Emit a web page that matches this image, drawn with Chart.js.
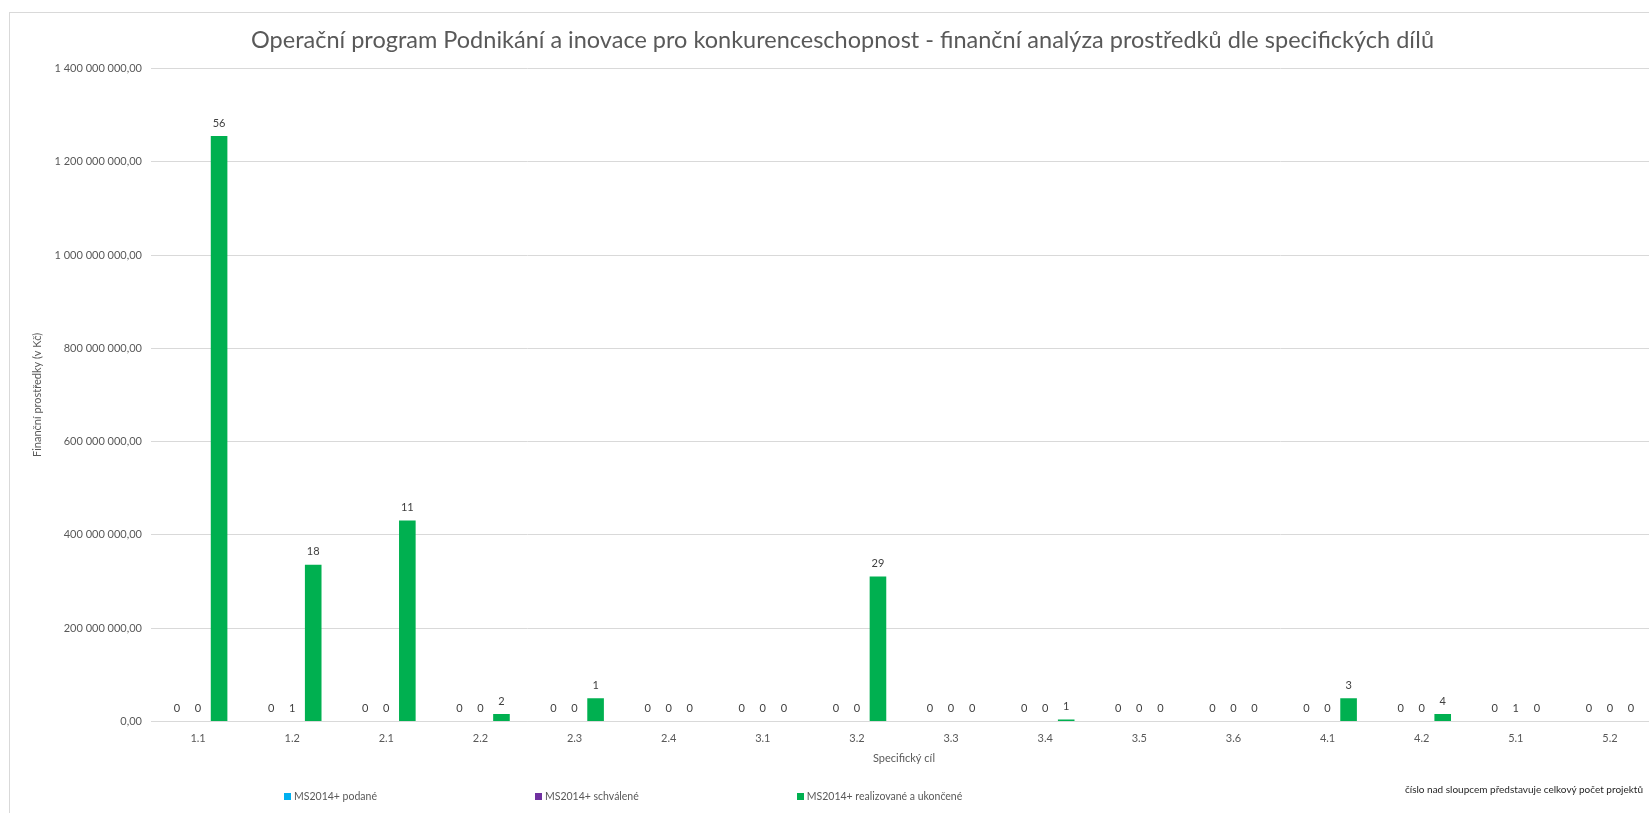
<!DOCTYPE html>
<html lang="cs">
<head>
  <meta charset="UTF-8" />
  <title>OP PIK - finanční analýza</title>
  <script src="https://cdn.jsdelivr.net/npm/chart.js"></script>
  <style>
    body { margin: 0; padding: 0; background: #fff; overflow: hidden; font-family: Lato, sans-serif; }
    #frame { position: absolute; left: 9px; top: 12px; width: 1672px; height: 820px; border: 1px solid #d9d9d9; }
    #legend { position: absolute; left: 284px; top: 790px; display: flex; gap: 158px; font-size: 10.5px; color: #595959; }
    #legend span.box { display: inline-block; width: 7px; height: 7px; margin-right: 3px; vertical-align: 0px; }
    #note { position: absolute; right: 6px; top: 783px; font-size: 10px; color: #262626; }
  </style>
</head>
<body>
  <div id="frame"><canvas id="chart" width="1672" height="820"></canvas></div>
  <div id="legend"></div>
  <div id="note">číslo nad sloupcem představuje celkový počet projektů</div>

  <script>
    const categories = ['1.1', '1.2', '2.1', '2.2', '2.3', '2.4', '3.1', '3.2', '3.3', '3.4', '3.5', '3.6', '4.1', '4.2', '5.1', '5.2'];
    const seriesNames = ['MS2014+ podané', 'MS2014+ schválené', 'MS2014+ realizované a ukončené'];
    const seriesColors = ['#00b0f0', '#7030a0', '#00b050'];

    // finanční prostředky v Kč
    const podane = [0, 0, 0, 0, 0, 0, 0, 0, 0, 0, 0, 0, 0, 0, 0, 0];
    const schvalene = [0, 0, 0, 0, 0, 0, 0, 0, 0, 0, 0, 0, 0, 0, 0, 0];
    const realizovane = [1255000000, 336000000, 431000000, 16000000, 50000000, 0, 0, 311000000, 0, 4500000, 0, 0, 50000000, 16000000, 0, 0];

    // počet projektů (popisky nad sloupci)
    const podanePocet = [0, 0, 0, 0, 0, 0, 0, 0, 0, 0, 0, 0, 0, 0, 0, 0];
    const schvalenePocet = [0, 1, 0, 0, 0, 0, 0, 0, 0, 0, 0, 0, 0, 0, 1, 0];
    const realizovanePocet = [56, 18, 11, 2, 1, 0, 0, 29, 0, 1, 0, 0, 3, 4, 0, 0];

    const yTicks = [0, 200000000, 400000000, 600000000, 800000000, 1000000000, 1200000000, 1400000000];

    const fmt = v => v.toFixed(2).replace('.', ',').replace(/\B(?=(\d{3})+(?!\d))/g, ' ');

    const values = [podane, schvalene, realizovane];
    const counts = [podanePocet, schvalenePocet, realizovanePocet];

    const countLabels = {
      id: 'countLabels',
      afterDatasetsDraw(chart) {
        const ctx = chart.ctx;
        ctx.save();
        ctx.font = '11px Lato';
        ctx.fillStyle = '#404040';
        ctx.textAlign = 'center';
        ctx.textBaseline = 'middle';
        chart.data.datasets.forEach((ds, i) => {
          chart.getDatasetMeta(i).data.forEach((bar, j) => {
            ctx.fillText(String(ds.counts[j]), bar.x, bar.y - 13);
          });
        });
        ctx.restore();
      }
    };

    new Chart(document.getElementById('chart'), {
      type: 'bar',
      data: {
        labels: categories,
        datasets: seriesNames.map((name, i) => ({
          label: name,
          data: values[i],
          counts: counts[i],
          backgroundColor: seriesColors[i],
          categoryPercentage: 0.67,
          barPercentage: 0.79
        }))
      },
      options: {
        responsive: false,
        animation: false,
        layout: { padding: { left: 18, right: 25, top: 0, bottom: 61.5 } },
        plugins: {
          legend: { display: false },
          tooltip: { enabled: false },
          title: {
            display: true,
            text: 'Operační program Podnikání a inovace pro konkurenceschopnost - finanční analýza prostředků dle specifických dílů',
            color: '#595959',
            font: { family: 'Lato', size: 23.5, weight: 'normal', lineHeight: 1.2 },
            padding: { top: 12.9, bottom: 14.3 }
          }
        },
        scales: {
          x: {
            grid: { display: false, drawTicks: false },
            border: { color: '#d9d9d9' },
            ticks: { color: '#595959', font: { family: 'Lato', size: 11 }, padding: 10 },
            title: {
              display: true, text: 'Specifický cíl', color: '#595959',
              font: { family: 'Lato', size: 11 }, padding: { top: 0, bottom: 6 }
            },
            afterFit: s => { s.height = 50; }
          },
          y: {
            min: 0,
            max: 1400000000,
            afterBuildTicks: s => { s.ticks = yTicks.map(v => ({ value: v })); },
            grid: { color: '#d9d9d9', drawTicks: false },
            border: { display: false },
            ticks: { color: '#595959', font: { family: 'Lato', size: 11 }, padding: 9, callback: v => fmt(v) },
            title: {
              display: true, text: 'Finanční prostředky (v Kč)', color: '#595959',
              font: { family: 'Lato', size: 11 }, padding: { top: 2.4, bottom: 0 }
            },
            afterFit: s => { s.width = 123; }
          }
        }
      },
      plugins: [countLabels]
    });

    const legend = document.getElementById('legend');
    seriesNames.forEach((name, i) => {
      const item = document.createElement('div');
      const box = document.createElement('span');
      box.className = 'box';
      box.style.background = seriesColors[i];
      item.appendChild(box);
      item.appendChild(document.createTextNode(name));
      legend.appendChild(item);
    });
  </script>
</body>
</html>
